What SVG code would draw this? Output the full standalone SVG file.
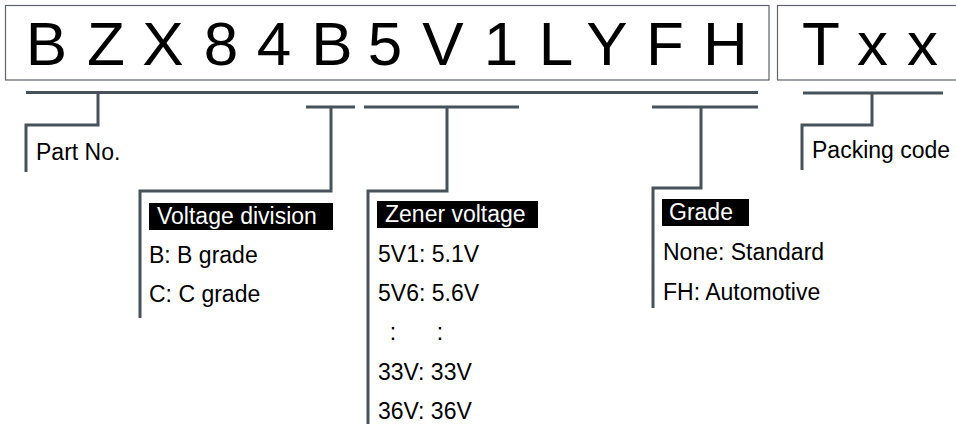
<svg xmlns="http://www.w3.org/2000/svg" width="956" height="424" viewBox="0 0 956 424">
<style>
.box{fill:none;stroke:#5c636b;stroke-width:1.2}
.big{font-family:"Liberation Sans",Arial,sans-serif;font-size:62px;fill:#000;text-anchor:middle}
.t{font-family:"Liberation Sans",Arial,sans-serif;font-size:23px;fill:#000}
.lab{font-family:"Liberation Sans",Arial,sans-serif;font-size:23px;fill:#fff}
.hl{fill:#000}
.c{fill:none;stroke:#48525b;stroke-width:3}
</style>
<rect width="956" height="424" fill="#fff"/>
<g id="partnumber">
<rect class="box" x="5.5" y="5.5" width="763.5" height="74.5"/>
<text class="big" y="65"><tspan x="46.5">B</tspan><tspan x="106">Z</tspan><tspan x="163">X</tspan><tspan x="221">8</tspan><tspan x="274">4</tspan><tspan x="332">B</tspan><tspan x="385">5</tspan><tspan x="443">V</tspan><tspan x="501">1</tspan><tspan x="556">L</tspan><tspan x="607">Y</tspan><tspan x="665">F</tspan><tspan x="725.5">H</tspan></text>
</g>
<g id="packing">
<rect class="box" x="777.5" y="5.5" width="190" height="74.5"/>
<text class="big" y="65"><tspan x="821">T</tspan><tspan x="872.5">x</tspan><tspan x="922.5">x</tspan></text>
</g>
<g id="connectors">
<path class="c" d="M26,92.5 H758"/>
<path class="c" d="M803,93 H943"/>
<path class="c" d="M306,107 H355 M364,107 H519 M652,107 H758"/>
<path class="c" d="M98,92.5 V125 H26 V172"/>
<path class="c" d="M331,107 V191 H140 V318"/>
<path class="c" d="M447,107 V191 H368 V424"/>
<path class="c" d="M701,107 V188 H653 V308"/>
<path class="c" d="M872,93 V125 H802 V170"/>
</g>
<g id="label-partno">
<text class="t" x="36" y="160">Part No.</text>
</g>
<g id="label-voltage-division">
<rect class="hl" x="149" y="203" width="184" height="27"/>
<text class="lab" x="157" y="224">Voltage division</text>
<text class="t" x="149" y="263">B: B grade</text>
<text class="t" x="149" y="302">C: C grade</text>
</g>
<g id="label-zener">
<rect class="hl" x="377" y="201" width="161" height="27"/>
<text class="lab" x="385" y="222">Zener voltage</text>
<text class="t" x="378" y="262">5V1: 5.1V</text>
<text class="t" x="378" y="301">5V6: 5.6V</text>
<text class="t" y="340" text-anchor="middle"><tspan x="393">:</tspan><tspan x="440">:</tspan></text>
<text class="t" x="378" y="380">33V: 33V</text>
<text class="t" x="378" y="419">36V: 36V</text>
</g>
<g id="label-grade">
<rect class="hl" x="662" y="199" width="87" height="27"/>
<text class="lab" x="669" y="220">Grade</text>
<text class="t" x="663" y="260">None: Standard</text>
<text class="t" x="663" y="300">FH: Automotive</text>
</g>
<g id="label-packing">
<text class="t" x="812" y="158">Packing code</text>
</g>
</svg>
